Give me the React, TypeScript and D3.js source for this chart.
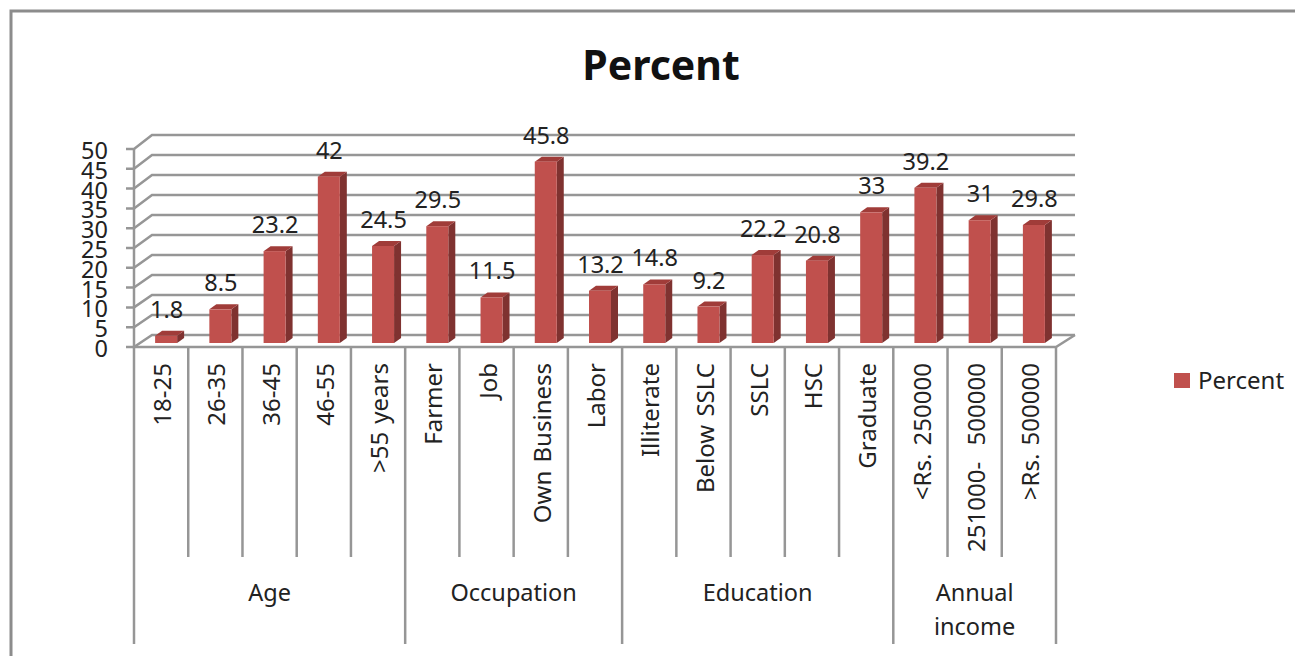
import React from "react";
import * as d3 from "d3";

const categories = ["18-25", "26-35", "36-45", "46-55", ">55 years", "Farmer", "Job", "Own Business", "Labor", "Illiterate", "Below SSLC", "SSLC", "HSC", "Graduate", "<Rs. 250000", "251000-  500000", ">Rs. 500000"];
const percentValues = [1.8, 8.5, 23.2, 42, 24.5, 29.5, 11.5, 45.8, 13.2, 14.8, 9.2, 22.2, 20.8, 33, 39.2, 31, 29.8];
const groupNames = [["Age"], ["Occupation"], ["Education"], ["Annual", "income"]];
const groupSizes = [5, 4, 5, 3];
const yTicks = d3.range(0, 55, 5);

const FONT = "'Noto Sans', 'Open Sans', sans-serif";
const INK = "#222";
const GRID = "#969696";

export default function App() {
  const band = d3.scaleBand<number>().domain(d3.range(categories.length)).range([134, 1056]);
  const yFront = d3.scaleLinear().domain([0, 50]).range([347, 149]);
  const yBack = d3.scaleLinear().domain([0, 50]).range([335, 135]);
  const yBar = d3.scaleLinear().domain([0, 50]).range([343, 145]);
  const depth = 18;
  const barW = 22;
  const barDx = 7;
  const barDy = 5;

  let acc = 0;
  const groups = groupSizes.map((n, i) => {
    const g = { start: acc, end: acc + n, lines: groupNames[i] };
    acc += n;
    return g;
  });
  const groupEdges = new Set(groups.flatMap((g) => [g.start, g.end]));

  return (
    <svg width={1295} height={656} style={{ position: "absolute", left: 0, top: 0, background: "#fff" }} fontFamily={FONT}>
      <rect x={11} y={11} width={1320} height={680} fill="#fff" stroke="#8c8c8c" strokeWidth={3} />

      <text x={661} y={80} textAnchor="middle" fontSize={41} fontWeight={700} fill="#111">Percent</text>

      {/* back wall, side wall and floor */}
      {yTicks.map((t) => (
        <path key={t} d={`M126,${yFront(t)}H134L${134 + depth},${yBack(t)}H1075`} stroke={GRID} strokeWidth={2.5} fill="none" />
      ))}
      <path d={`M134,149V347H1056L1075,335`} stroke={GRID} strokeWidth={2.5} fill="none" />
      {yTicks.map((t) => (
        <text key={t} x={108} y={yFront(t) + 1.5} dy="0.36em" textAnchor="end" fontSize={23.5} fill={INK}>{t}</text>
      ))}

      {/* category separators */}
      {d3.range(categories.length + 1).map((i) => {
        const x = band.step() * i + 134;
        return <line key={i} x1={x} x2={x} y1={347} y2={groupEdges.has(i) ? 644 : 557} stroke={GRID} strokeWidth={2.5} />;
      })}

      {/* bars */}
      {percentValues.map((v, i) => {
        const x0 = (band(i) as number) + band.bandwidth() / 2 - barW / 2 + 5;
        const x1 = x0 + barW;
        const top = yBar(v);
        const base = yBar(0);
        return (
          <g key={i}>
            <path d={`M${x1},${base}V${top}L${x1 + barDx},${top - barDy}V${base - barDy}Z`} fill="#7f3230" />
            <path d={`M${x0},${top}L${x0 + barDx},${top - barDy}H${x1 + barDx}L${x1},${top}Z`} fill="#a03c39" />
            <rect x={x0} y={top} width={barW} height={base - top} fill="#c0504d" />
          </g>
        );
      })}

      {/* value labels */}
      {percentValues.map((v, i) => {
        const cx = (band(i) as number) + band.bandwidth() / 2 + 5.5;
        return (
          <text key={i} x={cx} y={yBar(v) - 18} textAnchor="middle" fontSize={23.5} fill={INK}>{v}</text>
        );
      })}

      {/* rotated category labels */}
      {categories.map((c, i) => {
        const cx = (band(i) as number) + band.bandwidth() / 2 + 1.5;
        return (
          <text key={c} transform={`translate(${cx},363) rotate(-90)`} textAnchor="end" dy="0.36em" fontSize={24} wordSpacing={2} fill={INK} style={{ whiteSpace: "pre" }}>{c}</text>
        );
      })}

      {/* group labels */}
      {groups.map((g) => {
        const cx = 134 + band.step() * (g.start + g.end) / 2;
        return (
          <text key={g.lines[0]} textAnchor="middle" fontSize={23.5} fill={INK}>
            {g.lines.map((l, j) => (
              <tspan key={l} x={cx} y={601 + j * 34}>{l}</tspan>
            ))}
          </text>
        );
      })}

      {/* legend */}
      <rect x={1174} y={373} width={16} height={15} fill="#c0504d" />
      <text x={1198} y={380} dy="0.36em" fontSize={24} fill={INK}>Percent</text>
    </svg>
  );
}
